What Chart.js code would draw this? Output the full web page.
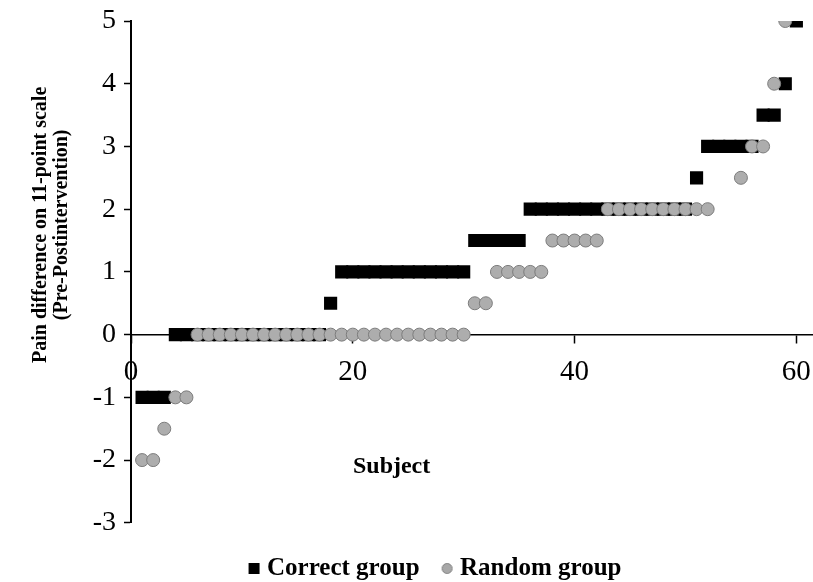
<!DOCTYPE html>
<html>
<head>
<meta charset="utf-8">
<script src="https://cdn.jsdelivr.net/npm/chart.js@4.4.0/dist/chart.umd.min.js"></script>
<style>
  html, body { margin: 0; padding: 0; background: #fff; }
  #wrap { width: 813px; height: 582px; }
</style>
</head>
<body>
<div id="wrap"><canvas id="painChart"></canvas></div>
<script>
// Subjects sorted by pain difference, one list per group
var correctSubject = [1, 2, 3, 4, 5, 6, 7, 8, 9, 10, 11, 12, 13, 14, 15, 16, 17, 18, 19, 20,
    21, 22, 23, 24, 25, 26, 27, 28, 29, 30, 31, 32, 33, 34, 35, 36, 37, 38, 39, 40,
    41, 42, 43, 44, 45, 46, 47, 48, 49, 50, 51, 52, 53, 54, 55, 56, 57, 58, 59, 60];
var correctPain = [-1, -1, -1, 0, 0, 0, 0, 0, 0, 0, 0, 0, 0, 0, 0, 0, 0, 0.5, 1, 1,
    1, 1, 1, 1, 1, 1, 1, 1, 1, 1, 1.5, 1.5, 1.5, 1.5, 1.5, 2, 2, 2, 2, 2,
    2, 2, 2, 2, 2, 2, 2, 2, 2, 2, 2.5, 3, 3, 3, 3, 3, 3.5, 3.5, 4, 5];

var randomSubject = [1, 2, 3, 4, 5, 6, 7, 8, 9, 10, 11, 12, 13, 14, 15, 16, 17, 18, 19, 20,
    21, 22, 23, 24, 25, 26, 27, 28, 29, 30, 31, 32, 33, 34, 35, 36, 37, 38, 39, 40,
    41, 42, 43, 44, 45, 46, 47, 48, 49, 50, 51, 52, 55, 56, 57, 58, 59];
var randomPain = [-2, -2, -1.5, -1, -1, 0, 0, 0, 0, 0, 0, 0, 0, 0, 0, 0, 0, 0, 0, 0,
    0, 0, 0, 0, 0, 0, 0, 0, 0, 0, 0.5, 0.5, 1, 1, 1, 1, 1, 1.5, 1.5, 1.5,
    1.5, 1.5, 2, 2, 2, 2, 2, 2, 2, 2, 2, 2, 2.5, 3, 3, 4, 5];

var xTicks = [0, 20, 40, 60];
var yTicks = [-3, -2, -1, 0, 1, 2, 3, 4, 5];
var yTitle = ["Pain difference on 11-point scale", "(Pre-Postintervention)"];
var xTitle = "Subject";
var seriesNames = ["Correct group", "Random group"];

Chart.defaults.font.family = '"Liberation Serif", "Times New Roman", serif';
Chart.defaults.color = "#000";

function toPoints(xs, ys) {
    var pts = [];
    for (var i = 0; i < xs.length; i++) {
        pts.push({x: xs[i], y: ys[i]});
    }
    return pts;
}

// small legend icons so the square and the dot keep their own sizes
function legendIcon(shape) {
    var c = document.createElement("canvas");
    c.width = 13;
    c.height = 13;
    var g = c.getContext("2d");
    if (shape == "rect") {
        g.fillStyle = "#000";
        g.fillRect(1, 1, 11, 11);
    } else {
        g.fillStyle = "#a8a8a8";
        g.strokeStyle = "#808080";
        g.beginPath();
        g.arc(6.5, 6.5, 5, 0, Math.PI * 2);
        g.fill();
        g.stroke();
    }
    return c;
}

// axis titles sit inside the plot, not where Chart.js would put them
var axisTitles = {
    id: "axisTitles",
    afterDraw: function(chart) {
        var ctx = chart.ctx;
        var area = chart.chartArea;
        var xs = chart.scales.x;
        var ys = chart.scales.y;
        ctx.save();
        ctx.fillStyle = "#000";
        ctx.textAlign = "center";
        ctx.textBaseline = "middle";

        ctx.font = 'bold 20px "Liberation Serif"';
        ctx.translate(area.left - 90, ys.getPixelForValue(1.75));
        ctx.rotate(-Math.PI / 2);
        ctx.fillText(yTitle[0], 0, 0);
        ctx.fillText(yTitle[1], 0, 21);
        ctx.restore();

        ctx.save();
        ctx.fillStyle = "#000";
        ctx.textAlign = "center";
        ctx.textBaseline = "middle";
        ctx.font = 'bold 24px "Liberation Serif"';
        ctx.fillText(xTitle, xs.getPixelForValue(23.5), ys.getPixelForValue(-2.1));
        ctx.restore();
    }
};

var ctx = document.getElementById("painChart").getContext("2d");
var painChart = new Chart(ctx, {
    type: "scatter",
    data: {
        datasets: [{
            // first in the list so it is drawn on top of the squares
            label: seriesNames[1],
            data: toPoints(randomSubject, randomPain),
            pointStyle: "circle",
            pointRadius: 6.5,
            backgroundColor: "#adadad",
            borderColor: "#7c7c7c",
            borderWidth: 1
        }, {
            label: seriesNames[0],
            data: toPoints(correctSubject, correctPain),
            pointStyle: "rect",
            pointRadius: 9.3,
            backgroundColor: "#000",
            borderColor: "#000",
            borderWidth: 0
        }]
    },
    options: {
        responsive: true,
        maintainAspectRatio: false,
        animation: false,
        layout: {
            // no extra room for the big markers, the plot runs to the right edge
            autoPadding: false,
            padding: {left: 62, right: 0, top: 21, bottom: -9}
        },
        plugins: {
            tooltip: {enabled: false},
            legend: {
                position: "bottom",
                // empty title only pushes the row down a little
                title: {display: true, text: "", font: {size: 1}, padding: {top: 5, bottom: 0}},
                labels: {
                    usePointStyle: true,
                    boxWidth: 1,
                    boxHeight: 12,
                    padding: 27,
                    color: "#000",
                    font: {size: 25, weight: "bold"},
                    sort: function(a, b) { return b.datasetIndex - a.datasetIndex; },
                    generateLabels: function(chart) {
                        var items = Chart.defaults.plugins.legend.labels.generateLabels(chart);
                        items.forEach(function(item) {
                            item.pointStyle = legendIcon(item.datasetIndex == 1 ? "rect" : "circle");
                        });
                        return items;
                    }
                }
            }
        },
        scales: {
            x: {
                type: "linear",
                position: {y: 0},
                min: 0,
                max: 61.5,
                afterFit: function(s) {
                    s.paddingLeft = 0;
                    s.paddingRight = 0;
                },
                afterBuildTicks: function(s) {
                    s.ticks = xTicks.map(function(v) { return {value: v}; });
                },
                grid: {
                    drawOnChartArea: false,
                    drawTicks: true,
                    tickLength: 8,
                    tickColor: "#000",
                    tickWidth: 1.5
                },
                border: {color: "#000", width: 1.5},
                ticks: {
                    padding: 12,
                    font: {size: 29},
                    color: "#000",
                    maxRotation: 0
                }
            },
            y: {
                type: "linear",
                position: "left",
                min: -3,
                max: 5,
                afterFit: function(s) {
                    s.width = 69;
                    s.paddingTop = 0;
                    s.paddingBottom = 0;
                },
                afterBuildTicks: function(s) {
                    s.ticks = yTicks.map(function(v) { return {value: v}; });
                },
                grid: {
                    drawOnChartArea: false,
                    drawTicks: true,
                    tickLength: 7,
                    tickColor: "#000",
                    tickWidth: 1.5
                },
                border: {color: "#000", width: 2},
                ticks: {
                    padding: 8,
                    font: {size: 28},
                    color: "#000"
                }
            }
        }
    },
    plugins: [axisTitles]
});
</script>
</body>
</html>
